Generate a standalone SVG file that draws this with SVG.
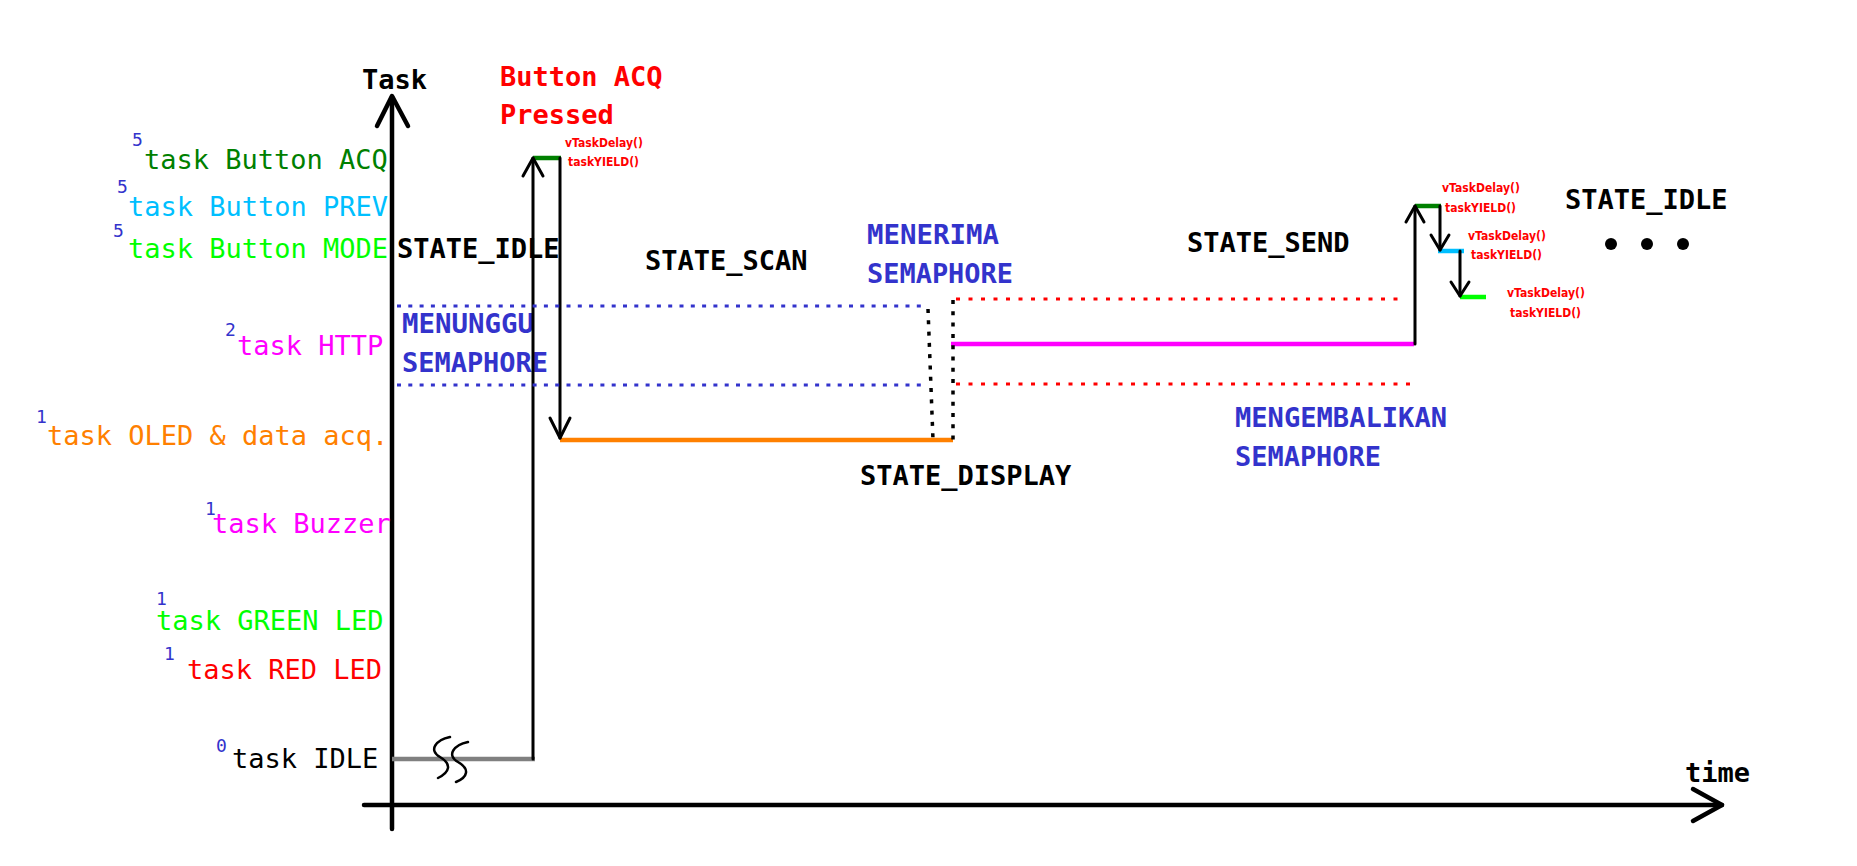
<svg xmlns="http://www.w3.org/2000/svg" width="1857" height="866" viewBox="0 0 1857 866">
<style>
  .mono { font-family: "DejaVu Sans Mono", "Liberation Mono", monospace; font-size: 27px; }
  .b { font-weight: bold; }
  .sup { font-family: "DejaVu Sans Mono", "Liberation Mono", monospace; font-size: 18px; fill: #3333CC; }
  .small { font-family: "DejaVu Sans", "Liberation Sans", sans-serif; font-size: 12.5px; font-weight: bold; fill: #FF0000; }
  .blue { fill: #3333CC; }
  .axis { stroke: #000; stroke-width: 4.5; fill: none; stroke-linecap: round; stroke-linejoin: round; }
  .arr { stroke: #000; stroke-width: 3; fill: none; stroke-linecap: round; stroke-linejoin: round; }
  .lvl { stroke-width: 4.5; fill: none; }
  .dotb { stroke: #3333CC; stroke-width: 3; stroke-dasharray: 4 7.3; fill: none; }
  .dotr { stroke: #FF0000; stroke-width: 3; stroke-dasharray: 4 8.5; fill: none; }
  .dotk { stroke: #000; stroke-width: 3.5; stroke-dasharray: 4 7.3; fill: none; }
</style>
<rect width="1857" height="866" fill="#fff"/>

<g id="axes">
  <line class="axis" x1="392" y1="97" x2="392" y2="829"/>
  <polyline class="axis" points="377,126 392,96 408,126"/>
  <line class="axis" x1="364" y1="805" x2="1722" y2="805"/>
  <polyline class="axis" points="1693,789 1722,805 1693,821"/>
  <text class="mono b" x="362" y="89">Task</text>
  <text class="mono b" x="1685" y="782">time</text>
</g>

<g id="task-labels">
  <text class="sup" x="132" y="146">5</text>
  <text class="mono" x="144" y="169" fill="#008000">task Button ACQ</text>
  <text class="sup" x="117" y="193">5</text>
  <text class="mono" x="128" y="216" fill="#00BFFF">task Button PREV</text>
  <text class="sup" x="113" y="237">5</text>
  <text class="mono" x="128" y="258" fill="#00FF00">task Button MODE</text>
  <text class="sup" x="225" y="336">2</text>
  <text class="mono" x="237" y="355" fill="#FF00FF">task HTTP</text>
  <text class="sup" x="36" y="423">1</text>
  <text class="mono" x="47" y="445" fill="#FF8000">task OLED &amp; data acq.</text>
  <text class="sup" x="205" y="515">1</text>
  <text class="mono" x="212" y="533" fill="#FF00FF">task Buzzer</text>
  <text class="sup" x="156" y="605">1</text>
  <text class="mono" x="156" y="630" fill="#00FF00">task GREEN LED</text>
  <text class="sup" x="164" y="660">1</text>
  <text class="mono" x="187" y="679" fill="#FF0000">task RED LED</text>
  <text class="sup" x="216" y="752">0</text>
  <text class="mono" x="232" y="768" fill="#000">task IDLE</text>
</g>

<g id="state-labels">
  <text class="mono b" x="397" y="258">STATE_IDLE</text>
  <text class="mono b" x="645" y="270">STATE_SCAN</text>
  <text class="mono b" x="860" y="485">STATE_DISPLAY</text>
  <text class="mono b" x="1187" y="252">STATE_SEND</text>
  <text class="mono b" x="1565" y="209">STATE_IDLE</text>
  <text class="mono b" x="500" y="86" fill="#FF0000">Button ACQ</text>
  <text class="mono b" x="500" y="124" fill="#FF0000">Pressed</text>
  <text class="mono b blue" x="402" y="333" textLength="132" lengthAdjust="spacingAndGlyphs">MENUNGGU</text>
  <text class="mono b blue" x="402" y="372" textLength="146" lengthAdjust="spacingAndGlyphs">SEMAPHORE</text>
  <text class="mono b blue" x="867" y="244" textLength="132" lengthAdjust="spacingAndGlyphs">MENERIMA</text>
  <text class="mono b blue" x="867" y="283" textLength="146" lengthAdjust="spacingAndGlyphs">SEMAPHORE</text>
  <text class="mono b blue" x="1235" y="427" textLength="212" lengthAdjust="spacingAndGlyphs">MENGEMBALIKAN</text>
  <text class="mono b blue" x="1235" y="466" textLength="146" lengthAdjust="spacingAndGlyphs">SEMAPHORE</text>
  <circle cx="1611" cy="244" r="6"/>
  <circle cx="1647" cy="244" r="6"/>
  <circle cx="1683" cy="244" r="6"/>
</g>

<g id="call-labels">
  <text class="small" x="565" y="147" textLength="78" lengthAdjust="spacingAndGlyphs">vTaskDelay()</text>
  <text class="small" x="568" y="166" textLength="71" lengthAdjust="spacingAndGlyphs">taskYIELD()</text>
  <text class="small" x="1442" y="192" textLength="78" lengthAdjust="spacingAndGlyphs">vTaskDelay()</text>
  <text class="small" x="1445" y="212" textLength="71" lengthAdjust="spacingAndGlyphs">taskYIELD()</text>
  <text class="small" x="1468" y="240" textLength="78" lengthAdjust="spacingAndGlyphs">vTaskDelay()</text>
  <text class="small" x="1471" y="259" textLength="71" lengthAdjust="spacingAndGlyphs">taskYIELD()</text>
  <text class="small" x="1507" y="297" textLength="78" lengthAdjust="spacingAndGlyphs">vTaskDelay()</text>
  <text class="small" x="1510" y="317" textLength="71" lengthAdjust="spacingAndGlyphs">taskYIELD()</text>
</g>

<g id="levels">
  <line class="lvl" stroke="#808080" x1="392" y1="759" x2="535" y2="759"/>
  <line class="lvl" stroke="#008000" x1="533" y1="158" x2="561" y2="158"/>
  <line class="lvl" stroke="#FF8000" x1="560" y1="440" x2="953" y2="440"/>
  <line class="lvl" stroke="#FF00FF" x1="951" y1="344" x2="1414" y2="344"/>
  <line class="lvl" stroke="#008000" x1="1415" y1="206" x2="1441" y2="206"/>
  <line class="lvl" stroke="#00BFFF" x1="1438" y1="251" x2="1464" y2="251"/>
  <line class="lvl" stroke="#00FF00" x1="1460" y1="297" x2="1486" y2="297"/>
  <path d="M450,737 C436,740 428,750 440,757 C452,764 450,772 438,778" stroke="#000" stroke-width="2.5" fill="none" stroke-linecap="round"/>
  <path d="M468,742 C454,745 446,755 458,762 C470,769 468,777 456,782" stroke="#000" stroke-width="2.5" fill="none" stroke-linecap="round"/>
</g>

<g id="connectors">
  <line class="arr" x1="533" y1="759" x2="533" y2="158"/>
  <polyline class="arr" points="523,176 533,158 543,176"/>
  <line class="arr" x1="560" y1="158" x2="560" y2="438"/>
  <polyline class="arr" points="550,418 560,438 570,418"/>
  <line class="arr" x1="1415" y1="344" x2="1415" y2="206"/>
  <polyline class="arr" points="1406,222 1415,206 1424,222"/>
  <line class="arr" x1="1440" y1="206" x2="1440" y2="250"/>
  <polyline class="arr" points="1431,235 1440,250 1449,235"/>
  <line class="arr" x1="1460" y1="251" x2="1460" y2="296"/>
  <polyline class="arr" points="1451,282 1460,296 1469,282"/>
  <line class="dotb" x1="397" y1="306" x2="928" y2="306"/>
  <line class="dotb" x1="397" y1="385" x2="928" y2="385"/>
  <line class="dotk" x1="928" y1="309" x2="933" y2="440"/>
  <line class="dotk" x1="953" y1="300" x2="953" y2="440"/>
  <line class="dotr" x1="956" y1="299" x2="1406" y2="299"/>
  <line class="dotr" x1="956" y1="384" x2="1412" y2="384"/>
</g>
</svg>
